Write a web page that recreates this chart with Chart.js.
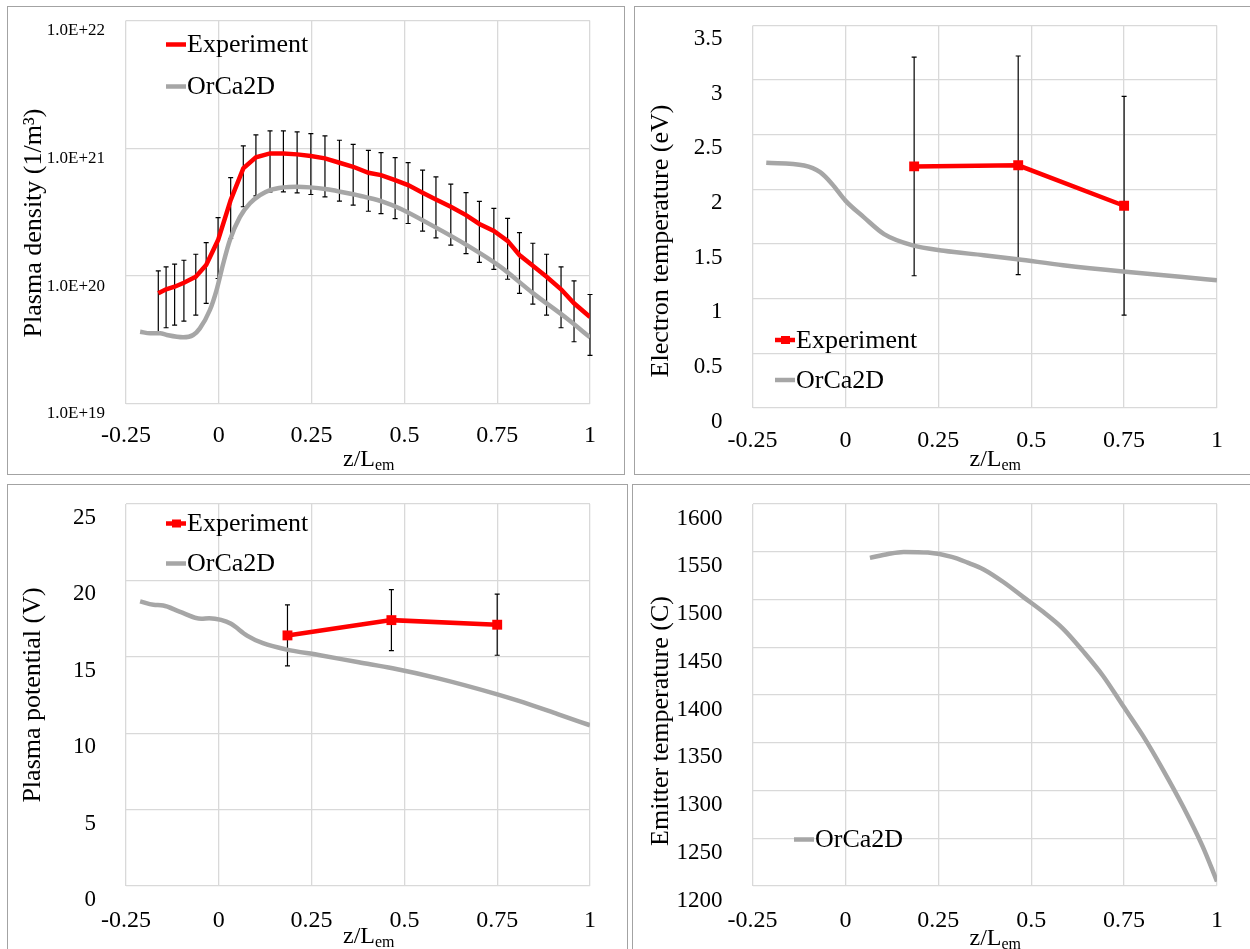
<!DOCTYPE html>
<html>
<head>
<meta charset="utf-8">
<script src="https://cdn.jsdelivr.net/npm/chart.js@4.4.0/dist/chart.umd.min.js"></script>
<style>
  body { margin: 0; background: #fff; }
  #wrap { position: relative; width: 1250px; height: 949px; overflow: hidden; }
  .frame { position: absolute; border: 1.5px solid #a3a3a3; box-sizing: border-box; }
  canvas { position: absolute; }
</style>
</head>
<body>
<div id="wrap">
  <div class="frame" style="left:7px;top:6px;width:618px;height:469px"></div>
  <div class="frame" style="left:634px;top:6px;width:700px;height:469px"></div>
  <div class="frame" style="left:7px;top:484px;width:621px;height:600px"></div>
  <div class="frame" style="left:632px;top:484px;width:700px;height:600px"></div>
  <canvas id="c1" width="625" height="475" style="left:0;top:0"></canvas>
  <canvas id="c2" width="625" height="475" style="left:625px;top:0"></canvas>
  <canvas id="c3" width="625" height="474" style="left:0;top:475px"></canvas>
  <canvas id="c4" width="625" height="474" style="left:625px;top:475px"></canvas>
</div>
<script>
const seriesNames = ['Experiment', 'OrCa2D'];
const xTicks = [-0.25, 0, 0.25, 0.5, 0.75, 1];

// plasma density
const densExpZ = [-0.163, -0.142, -0.119, -0.094, -0.062, -0.034, -0.002, 0.032, 0.066, 0.100, 0.138, 0.174,
  0.211, 0.248, 0.286, 0.325, 0.362, 0.403, 0.437, 0.475, 0.510, 0.549, 0.585, 0.625, 0.666, 0.702, 0.741,
  0.778, 0.810, 0.846, 0.883, 0.922, 0.957, 1.0];
const densExp = [7.29e19, 7.84e19, 8.22e19, 8.83e19, 9.84e19, 1.215e20, 1.906e20, 3.92e20, 6.95e20, 8.47e20,
  9.1e20, 9.1e20, 8.94e20, 8.67e20, 8.32e20, 7.69e20, 7.15e20, 6.41e20, 6.15e20, 5.62e20, 5.14e20, 4.48e20,
  3.97e20, 3.48e20, 2.99e20, 2.55e20, 2.25e20, 1.88e20, 1.455e20, 1.2e20, 9.84e19, 7.84e19, 6.09e19, 4.76e19];
const densErrFrac = 0.5;
const densSimZ = [-0.212, -0.185, -0.158, -0.140, -0.096, -0.069, -0.051, -0.024, -0.006, 0.012, 0.030, 0.057,
  0.084, 0.111, 0.138, 0.174, 0.210, 0.246, 0.291, 0.327, 0.362, 0.398, 0.443, 0.488, 0.578, 0.668, 0.758,
  0.847, 0.937, 1.0];
const densSim = [3.65e19, 3.55e19, 3.55e19, 3.44e19, 3.30e19, 3.44e19, 3.88e19, 5.40e19, 7.74e19, 1.25e20,
  1.91e20, 2.90e20, 3.70e20, 4.29e20, 4.70e20, 4.93e20, 4.99e20, 4.93e20, 4.76e20, 4.56e20, 4.35e20, 4.12e20,
  3.80e20, 3.37e20, 2.45e20, 1.74e20, 1.18e20, 7.29e19, 4.65e19, 3.30e19];
const densTicks = [1e19, 1e20, 1e21, 1e22];

// probe positions
const probeZ = [0.185, 0.465, 0.75];

// electron temperature
const teExp = [2.21, 2.22, 1.85];
const teErr = [1.0, 1.0, 1.0];
const teSimZ = [-0.213, -0.111, -0.068, -0.036, 0.0, 0.050, 0.104, 0.179, 0.265, 0.372, 0.463, 0.586, 0.747, 0.908, 1.0];
const teSim = [2.243, 2.218, 2.157, 2.050, 1.897, 1.744, 1.591, 1.490, 1.438, 1.398, 1.361, 1.306, 1.248, 1.199, 1.168];
const teTicks = [0, 0.5, 1, 1.5, 2, 2.5, 3, 3.5];

// plasma potential
const phiExp = [16.4, 17.4, 17.1];
const phiErr = [2.0, 2.0, 2.0];
const phiSimZ = [-0.212, -0.176, -0.150, -0.106, -0.047, -0.026, 0.006, 0.033, 0.076, 0.119, 0.183, 0.269,
  0.377, 0.468, 0.591, 0.748, 0.806, 0.913, 1.0];
const phiSim = [18.63, 18.40, 18.36, 17.96, 17.49, 17.53, 17.42, 17.16, 16.39, 15.89, 15.47, 15.12,
  14.64, 14.25, 13.59, 12.56, 12.13, 11.25, 10.52];
const phiTicks = [0, 5, 10, 15, 20, 25];

// emitter temperature
const twSimZ = [0.066, 0.115, 0.157, 0.222, 0.286, 0.329, 0.372, 0.425, 0.479, 0.533, 0.586, 0.640, 0.693,
  0.747, 0.801, 0.854, 0.908, 0.961, 1.0];
const twSim = [1543.6, 1547.7, 1549.8, 1549.1, 1544.6, 1538.6, 1531.5, 1518.3, 1502.5, 1486.8, 1469.3, 1445.7,
  1420.2, 1388.7, 1357.2, 1322.2, 1283.7, 1241.7, 1204.8];
const twTicks = [1200, 1250, 1300, 1350, 1400, 1450, 1500, 1550, 1600];

const FONT = '"Liberation Serif", "Times New Roman", serif';
const RED = '#ff0000';
const GREY = '#a6a6a6';
Chart.defaults.font.family = FONT;
Chart.defaults.color = '#000';

const pts = (zs, vs) => zs.map((z, i) => ({x: z, y: vs[i]}));

function errorPlugin(zs, lows, highs, cap) {
  return {
    id: 'errorBars',
    beforeDatasetsDraw(chart) {
      const {ctx, scales: {x, y}} = chart;
      ctx.save();
      ctx.strokeStyle = '#000';
      ctx.lineWidth = 1.2;
      zs.forEach((z, i) => {
        const px = x.getPixelForValue(z);
        const y1 = y.getPixelForValue(lows[i]);
        const y2 = y.getPixelForValue(highs[i]);
        ctx.beginPath();
        ctx.moveTo(px, y1); ctx.lineTo(px, y2);
        ctx.moveTo(px - cap, y1); ctx.lineTo(px + cap, y1);
        ctx.moveTo(px - cap, y2); ctx.lineTo(px + cap, y2);
        ctx.stroke();
      });
      ctx.restore();
    }
  };
}

function decorPlugin(d) {
  return {
    id: 'decor',
    afterDraw(chart) {
      const ctx = chart.ctx;
      ctx.save();
      // legend
      d.legend.forEach(it => {
        ctx.strokeStyle = it.color;
        ctx.lineWidth = 4.5;
        ctx.beginPath();
        ctx.moveTo(it.x, it.y); ctx.lineTo(it.x + 20, it.y);
        ctx.stroke();
        if (it.marker) {
          ctx.fillStyle = it.color;
          ctx.fillRect(it.x + 6, it.y - 4, 9, 8);
        }
        ctx.fillStyle = '#000';
        ctx.font = '26px ' + FONT;
        ctx.textAlign = 'left';
        ctx.textBaseline = 'middle';
        ctx.fillText(it.label, it.x + 21, it.y + 1);
      });
      // x title with subscript
      ctx.fillStyle = '#000';
      ctx.textAlign = 'left';
      ctx.textBaseline = 'alphabetic';
      ctx.font = '24px ' + FONT;
      ctx.fillText('z/L', d.xt[0], d.xt[1]);
      const w = ctx.measureText('z/L').width;
      ctx.font = '16px ' + FONT;
      ctx.fillText('em', d.xt[0] + w, d.xt[1] + 4);
      // y title
      ctx.translate(d.yt[1], d.yt[2]);
      ctx.rotate(-Math.PI / 2);
      ctx.font = '26px ' + FONT;
      ctx.textAlign = 'center';
      ctx.textBaseline = 'middle';
      ctx.fillText(d.yt[0], 0, 0);
      ctx.restore();
    }
  };
}

function makeChart(id, p) {
  new Chart(document.getElementById(id), {
    type: 'scatter',
    data: {datasets: p.datasets},
    options: {
      responsive: false,
      animation: false,
      layout: {padding: {left: 0, top: p.top, right: p.right, bottom: 0}},
      plugins: {legend: {display: false}, tooltip: {enabled: false}},
      scales: {
        x: {
          type: 'linear', min: -0.25, max: 1,
          afterFit: s => { s.height = p.xh; },
          afterBuildTicks: s => { s.ticks = xTicks.map(v => ({value: v})); },
          grid: {color: '#d9d9d9', lineWidth: 1.3, drawTicks: true, tickLength: p.xpad, tickColor: 'rgba(0,0,0,0)'},
          border: {display: false},
          ticks: {font: {size: 24}, padding: 0, callback: v => String(v)}
        },
        y: {
          type: p.ylog ? 'logarithmic' : 'linear', min: p.yTicks[0], max: p.yTicks[p.yTicks.length - 1],
          afterFit: s => { s.width = p.yw; },
          afterBuildTicks: s => { s.ticks = p.yTicks.map(v => ({value: v})); },
          grid: {color: '#d9d9d9', lineWidth: 1.3, drawTicks: true, tickLength: p.ypad, tickColor: 'rgba(0,0,0,0)'},
          border: {display: false},
          ticks: {font: {size: p.yfont}, padding: 0, labelOffset: p.yoff, callback: p.yfmt}
        }
      }
    },
    plugins: p.plugins
  });
}

const simLine = (zs, vs) => ({
  label: seriesNames[1], data: pts(zs, vs), showLine: true, borderColor: GREY, borderWidth: 4.5,
  pointRadius: 0, cubicInterpolationMode: 'monotone', order: 0
});
const expLine = (zs, vs, markers) => ({
  label: seriesNames[0], data: pts(zs, vs), showLine: true, borderColor: RED, backgroundColor: RED,
  borderWidth: 4.5, pointRadius: markers ? 7 : 0, pointStyle: 'rect', pointBorderWidth: 0, order: 1
});

// panel 1: plasma density
makeChart('c1', {
  datasets: [expLine(densExpZ, densExp, false), simLine(densSimZ, densSim)],
  top: 20.5, right: 35, xh: 71.5, yw: 126, xpad: 17.5, ypad: 21, yoff: 10.5, yfont: 17,
  ylog: true, yTicks: densTicks, yfmt: v => Number(v).toExponential(1).toUpperCase(),
  plugins: [
    errorPlugin(densExpZ, densExp.map(v => v * (1 - densErrFrac)), densExp.map(v => v * (1 + densErrFrac)), 2.5),
    decorPlugin({
      legend: [{label: seriesNames[0], color: RED, x: 166, y: 44.5}, {label: seriesNames[1], color: GREY, x: 166, y: 86.5}],
      xt: [343, 466], yt: ['Plasma density (1/m³)', 34, 223]
    })
  ]
});

// panel 2: electron temperature
makeChart('c2', {
  datasets: [expLine(probeZ, teExp, true), simLine(teSimZ, teSim)],
  top: 25.4, right: 33, xh: 67, yw: 127.5, xpad: 18, ypad: 30, yoff: 13.5, yfont: 23,
  yTicks: teTicks, yfmt: v => String(v),
  plugins: [
    errorPlugin(probeZ, teExp.map((v, i) => v - teErr[i]), teExp.map((v, i) => v + teErr[i]), 2.5),
    decorPlugin({
      legend: [{label: seriesNames[0], color: RED, marker: true, x: 150, y: 340}, {label: seriesNames[1], color: GREY, x: 150, y: 380}],
      xt: [344.5, 466], yt: ['Electron temperature (eV)', 36.5, 241]
    })
  ]
});

// panel 3: plasma potential
makeChart('c3', {
  datasets: [expLine(probeZ, phiExp, true), simLine(phiSimZ, phiSim)],
  top: 29, right: 35, xh: 63, yw: 126, xpad: 20, ypad: 30, yoff: 14, yfont: 23,
  yTicks: phiTicks, yfmt: v => String(v),
  plugins: [
    errorPlugin(probeZ, phiExp.map((v, i) => v - phiErr[i]), phiExp.map((v, i) => v + phiErr[i]), 2.5),
    decorPlugin({
      legend: [{label: seriesNames[0], color: RED, marker: true, x: 166, y: 48.5}, {label: seriesNames[1], color: GREY, x: 166, y: 88.5}],
      xt: [343, 468], yt: ['Plasma potential (V)', 33, 220]
    })
  ]
});

// panel 4: emitter temperature
makeChart('c4', {
  datasets: [simLine(twSimZ, twSim)],
  top: 29, right: 33, xh: 63, yw: 127.5, xpad: 20, ypad: 30, yoff: 14.5, yfont: 23,
  yTicks: twTicks, yfmt: v => String(v),
  plugins: [
    decorPlugin({
      legend: [{label: seriesNames[1], color: GREY, x: 169, y: 364.5}],
      xt: [344.5, 470], yt: ['Emitter temperature (C)', 36.5, 246]
    })
  ]
});
</script>
</body>
</html>
